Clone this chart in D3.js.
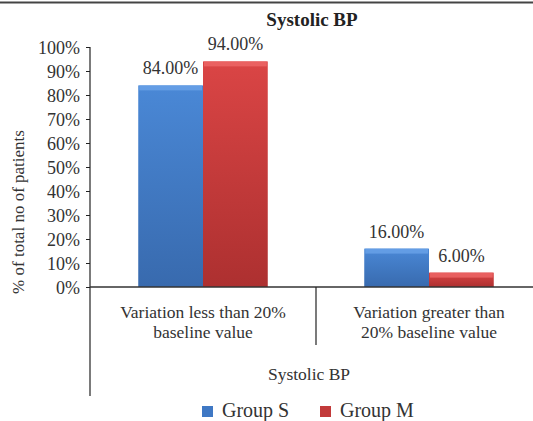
<!DOCTYPE html>
<html><head><meta charset="utf-8">
<script src="https://cdn.jsdelivr.net/npm/d3@7"></script>
<style>
body{margin:0;background:#fff;}
svg{display:block;font-family:"Liberation Serif","DejaVu Serif",serif;}
</style></head>
<body><svg id="c" width="533" height="421"></svg>
<script>
const categories = [["Variation less than 20%","baseline value"],["Variation greater than","20% baseline value"]];
const seriesNames = ["Group S","Group M"];
const groupS = [84, 16];
const groupM = [94, 6];
const yTicks = [0,10,20,30,40,50,60,70,80,90,100];

const svg = d3.select("#c");
const defs = svg.append("defs");
function grad(id, top, bot){
  const g = defs.append("linearGradient").attr("id",id).attr("x1",0).attr("x2",0).attr("y1",0).attr("y2",1);
  g.append("stop").attr("offset","0%").attr("stop-color",top);
  g.append("stop").attr("offset","100%").attr("stop-color",bot);
}
grad("gS","#4a88d6","#386aae");
grad("gM","#da4545","#ad3030");
const fills = ["url(#gS)","url(#gM)"];
const hl = ["#6aa3e8","#ee6868"];
const legendColors = ["#3f78c4","#c23a3a"];

const x0 = 90, plotTop = 47, plotBottom = 287;
const y = d3.scaleLinear().domain([0,100]).range([plotBottom, plotTop]);
const x = d3.scaleBand().domain(d3.range(categories.length)).range([x0, x0 + 226*2]).paddingInner(0).paddingOuter(0);
const xs = d3.scaleBand().domain(d3.range(seriesNames.length)).range([0, x.bandwidth()]).paddingInner(0).paddingOuter(0.745);

// top border
svg.append("line").attr("x1",0).attr("x2",533).attr("y1",2.5).attr("y2",2.5).attr("stroke","#444").attr("stroke-width",2);

// title
svg.append("text").attr("x",312).attr("y",26).attr("text-anchor","middle")
  .attr("font-weight","bold").attr("font-size",19).attr("fill","#222").text("Systolic BP");

// y axis
const yAxis = d3.axisLeft(y).tickValues(yTicks).tickSize(4).tickFormat(d => d + "%");
const ga = svg.append("g").attr("transform",`translate(${x0},0)`).call(yAxis);
ga.select(".domain").remove();
ga.selectAll(".tick line").attr("stroke","#222");
ga.selectAll(".tick text").attr("font-size",18).attr("fill","#333")
  .attr("font-family","Liberation Serif, DejaVu Serif, serif").attr("x",-10).attr("dy","0.35em");
svg.append("line").attr("x1",x0).attr("x2",x0).attr("y1",plotTop).attr("y2",396).attr("stroke","#222").attr("stroke-width",1.2);

// y title
svg.append("text").attr("transform","translate(24,212) rotate(-90)").attr("text-anchor","middle")
  .attr("font-size",17).attr("fill","#333").text("% of total no of patients");

// bars
const data = categories.map((c,i)=>[groupS[i], groupM[i]]);
data.forEach((vals,i)=>{
  vals.forEach((v,j)=>{
    const bx = x(i) + xs(j), bw = xs.bandwidth(), by = y(v), bh = plotBottom - y(v);
    svg.append("rect").attr("x",bx).attr("y",by).attr("width",bw).attr("height",bh).attr("fill",fills[j]);
    svg.append("rect").attr("x",bx+1).attr("y",by).attr("width",bw-2).attr("height",Math.min(5,bh)).attr("fill",hl[j]).attr("opacity",0.8);
    svg.append("text").attr("x",bx + bw/2).attr("y",by - 11).attr("text-anchor","middle")
      .attr("font-size",18).attr("fill","#333").text(v.toFixed(2) + "%");
  });
});

// x axis line
svg.append("line").attr("x1",x0).attr("x2",533).attr("y1",plotBottom).attr("y2",plotBottom).attr("stroke","#333").attr("stroke-width",1.5);
// category divider
svg.append("line").attr("x1",x(1)).attr("x2",x(1)).attr("y1",plotBottom).attr("y2",345).attr("stroke","#222").attr("stroke-width",1.2);

// category labels
categories.forEach((lines,i)=>{
  const cx = x(i) + x.bandwidth()/2;
  lines.forEach((l,k)=>{
    svg.append("text").attr("x",cx).attr("y",318 + k*20).attr("text-anchor","middle")
      .attr("font-size",17.5).attr("fill","#333").text(l);
  });
});
svg.append("text").attr("x",309).attr("y",380).attr("text-anchor","middle")
  .attr("font-size",17.5).attr("fill","#333").text("Systolic BP");

// legend
const legX = [202, 320];
seriesNames.forEach((n,j)=>{
  svg.append("rect").attr("x",legX[j]).attr("y",406).attr("width",11).attr("height",11).attr("fill",legendColors[j]);
  svg.append("text").attr("x",legX[j] + 20).attr("y",417).attr("font-size",20).attr("fill","#333").text(n);
});
</script></body></html>
